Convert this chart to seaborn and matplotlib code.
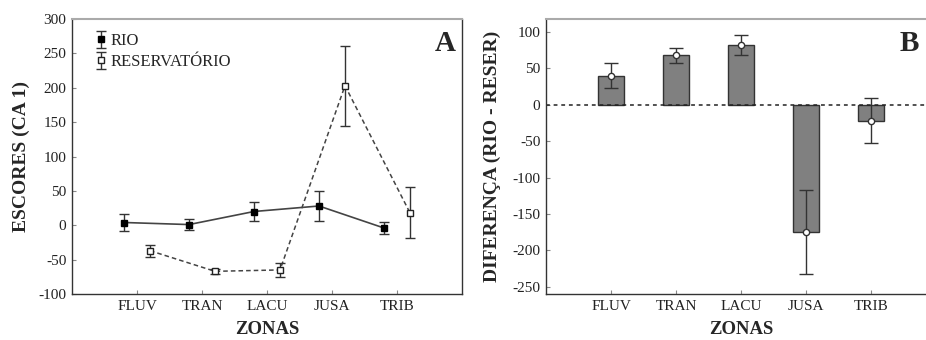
import matplotlib
matplotlib.use("Agg")
import matplotlib.pyplot as plt
import seaborn as sns
import numpy as np
import pandas as pd

zonas = ["FLUV", "TRAN", "LACU", "JUSA", "TRIB"]
rio_mean = [4, 1, 20, 28, -4]
rio_err = [12, 8, 14, 22, 9]
res_mean = [-37, -67, -65, 203, 18]
res_err = [9, 4, 10, 58, 37]
dif_mean = [40, 68, 82, -175, -22]
dif_err = [17, 10, 14, 58, 31]
yticks_a = [-100, -50, 0, 50, 100, 150, 200, 250, 300]
yticks_b = [-250, -200, -150, -100, -50, 0, 50, 100]

sns.set_theme(style="ticks")
plt.rcParams["font.family"] = ["Liberation Serif", "DejaVu Serif"]
plt.rcParams["axes.unicode_minus"] = False

fig = plt.figure(figsize=(9.26, 3.4), dpi=100)
W, H = 926, 340
axA = fig.add_axes([72 / W, (H - 294) / H, 390 / W, 275 / H])
axB = fig.add_axes([546 / W, (H - 294) / H, 390 / W, 275 / H])

pos = np.arange(len(zonas))
off = 0.2
dark = "#2b2b2b"

# Panel A
sns.lineplot(x=pos - off, y=rio_mean, ax=axA, color="#444444", lw=1.2, sort=False)
sns.lineplot(x=pos + off, y=res_mean, ax=axA, color="#444444", lw=1.1,
             linestyle=(0, (3, 2)), sort=False)
h_rio = axA.errorbar(pos - off, rio_mean, yerr=rio_err, fmt="s", color=dark,
                     mfc="black", mec="black", ms=4.6, ecolor="#333333",
                     elinewidth=1.0, capsize=3.5, capthick=1.0, zorder=5)
h_res = axA.errorbar(pos + off, res_mean, yerr=res_err, fmt="s", color=dark,
                     mfc="white", mec="#222222", ms=4.3, mew=1.0, ecolor="#333333",
                     elinewidth=1.0, capsize=3.5, capthick=1.0, zorder=5)
axA.set_xlim(-1, 5)
axA.set_ylim(-100, 300)
axA.set_yticks(yticks_a)
axA.set_xticks(pos)
axA.set_xticklabels(zonas)
axA.set_ylabel("ESCORES (CA 1)", fontsize=14, fontweight="bold")
axA.set_xlabel("ZONAS", fontsize=13.5, fontweight="bold")
axA.yaxis.set_label_coords(-0.108, 0.5)
axA.xaxis.set_label_coords(0.5, -0.1)
axA.text(0.985, 0.91, "A", transform=axA.transAxes, fontsize=21,
         fontweight="bold", ha="right", va="center")
leg = axA.legend([h_rio, h_res], ["RIO", "RESERVATÓRIO"], loc="upper left",
                 bbox_to_anchor=(0.035, 0.985), frameon=False, fontsize=12,
                 handlelength=0.6, handletextpad=0.3, labelspacing=0.3,
                 borderaxespad=0.2)

# Panel B
dfB = pd.DataFrame({"zona": zonas, "dif": dif_mean})
sns.barplot(data=dfB, x="zona", y="dif", ax=axB, color="#808080",
            edgecolor="#333333", linewidth=1.0, width=0.41, saturation=1)
axB.axhline(0, color="#222222", lw=1.1, linestyle=(0, (2.5, 2.5)), zorder=1)
axB.errorbar(pos, dif_mean, yerr=dif_err, fmt="o", color=dark, mfc="white",
             mec="#333333", ms=4.5, mew=1.0, ecolor="#333333", elinewidth=1.0,
             capsize=5, capthick=1.0, zorder=5)
axB.set_xlim(-1, 5)
axB.set_ylim(-260, 118)
axB.set_yticks(yticks_b)
axB.set_ylabel("DIFERENÇA (RIO - RESER)", fontsize=14, fontweight="bold")
axB.set_xlabel("ZONAS", fontsize=13.5, fontweight="bold")
axB.yaxis.set_label_coords(-0.115, 0.5)
axB.xaxis.set_label_coords(0.5, -0.1)
axB.text(0.955, 0.91, "B", transform=axB.transAxes, fontsize=21,
         fontweight="bold", ha="right", va="center")

for ax in (axA, axB):
    for s in ("left", "bottom", "right"):
        ax.spines[s].set_color("#333333")
        ax.spines[s].set_linewidth(1.0)
    ax.spines["top"].set_color("#aaaaaa")
    ax.spines["top"].set_linewidth(1.5)
    ax.tick_params(axis="both", direction="in", length=3, width=0.8,
                   color="#888888", labelsize=11, pad=4, labelcolor="#222222")
    ax.grid(False)

fig.savefig("out.png", dpi=100)
